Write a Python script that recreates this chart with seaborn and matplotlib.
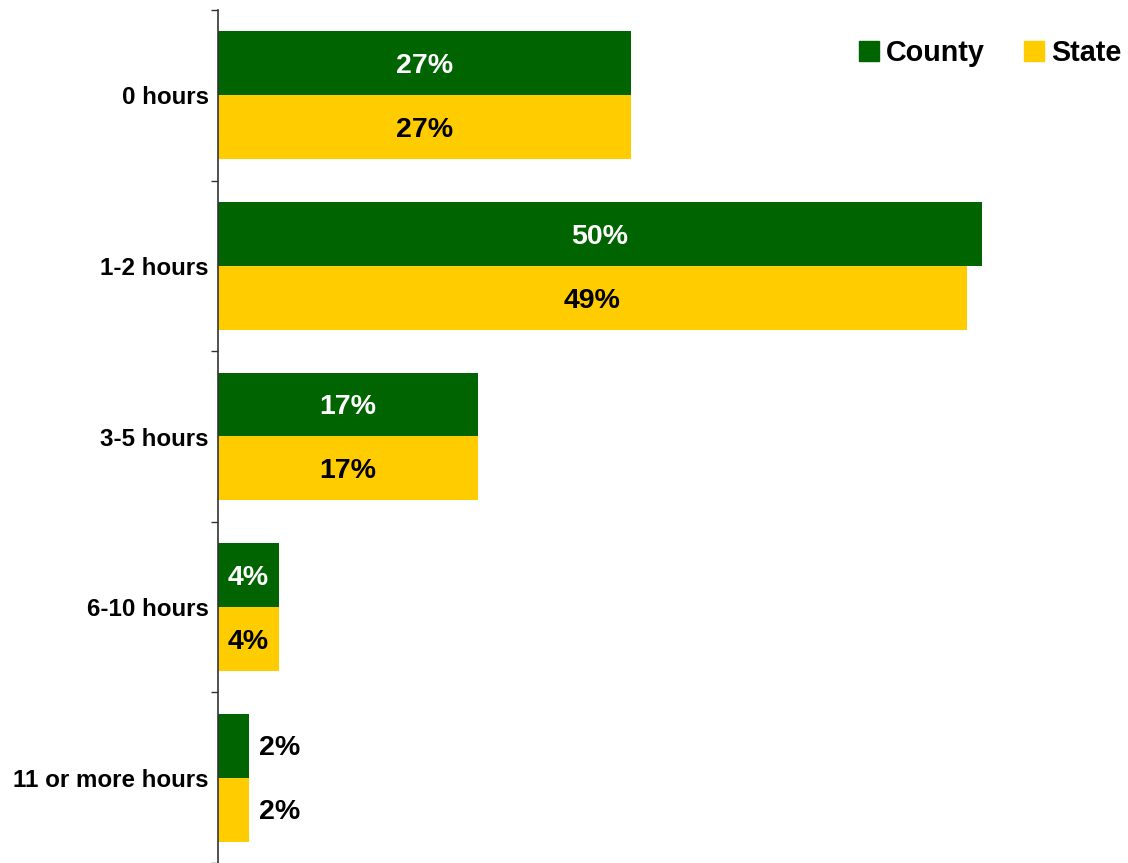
import pandas as pd
import matplotlib
matplotlib.use("Agg")
import matplotlib.pyplot as plt
import seaborn as sns
from matplotlib.patches import Patch

sns.set_style("white")
plt.rcParams["font.family"] = ["Liberation Sans", "DejaVu Sans"]
plt.rcParams["font.weight"] = "bold"
plt.rcParams["text.color"] = "black"

categories = ["0 hours", "1-2 hours", "3-5 hours", "6-10 hours", "11 or more hours"]
county = [27, 50, 17, 4, 2]
state = [27, 49, 17, 4, 2]
series = ["County", "State"]
colors = {"County": "#006400", "State": "#FFCC00"}

df = pd.DataFrame({
    "category": categories * 2,
    "value": county + state,
    "series": ["County"] * len(categories) + ["State"] * len(categories),
})

fig = plt.figure(figsize=(11.28, 8.63), dpi=100)
ax = fig.add_axes([218 / 1128, 0, 1 - 218 / 1128, 853 / 863])

sns.barplot(data=df, y="category", x="value", hue="series", orient="h",
            palette=colors, width=0.75, saturation=1, ax=ax, legend=False,
            order=categories, hue_order=series, linewidth=0)

ax.set_xlim(0, 59.55)
ax.set_ylim(len(categories) - 0.5, -0.5)
ax.set_xlabel("")
ax.set_ylabel("")
ax.set_xticks([])
for s in ["top", "right", "bottom"]:
    ax.spines[s].set_visible(False)
ax.spines["left"].set_color("#333333")
ax.spines["left"].set_linewidth(1.2)

ax.set_yticks(range(len(categories)))
ax.set_yticklabels(categories, fontsize=17.4, fontweight="bold", color="black")
ax.tick_params(axis="y", which="major", length=0, pad=6.5)
ax.set_yticks([i - 0.5 for i in range(len(categories) + 1)], minor=True)
ax.tick_params(axis="y", which="minor", left=True, length=5, width=1,
               color="#333333", direction="out")

# value labels (small nudge down so digits sit centred in the bar)
for cont, name in zip(ax.containers, series):
    for bar in cont:
        w = bar.get_width()
        yc = bar.get_y() + bar.get_height() / 2 + 0.016
        if w < 3:
            ax.text(w + 0.7, yc, f"{w:.0f}%", ha="left", va="center",
                    fontsize=20.5, fontweight="bold", color="black")
        else:
            ax.text(w / 2, yc, f"{w:.0f}%", ha="center", va="center",
                    fontsize=20.5, fontweight="bold",
                    color="white" if name == "County" else "black")

handles = [Patch(color=colors[s], label=s) for s in series]
fig.legend(handles=handles, loc="center right", bbox_to_anchor=(1122 / 1128, 1 - 53 / 863),
           bbox_transform=fig.transFigure, ncol=2, frameon=False,
           prop={"size": 20.7, "weight": "bold"},
           handlelength=0.7, handleheight=0.73, handletextpad=0.25, columnspacing=1.36,
           borderpad=0, borderaxespad=0)

fig.savefig("out.png", dpi=100)
